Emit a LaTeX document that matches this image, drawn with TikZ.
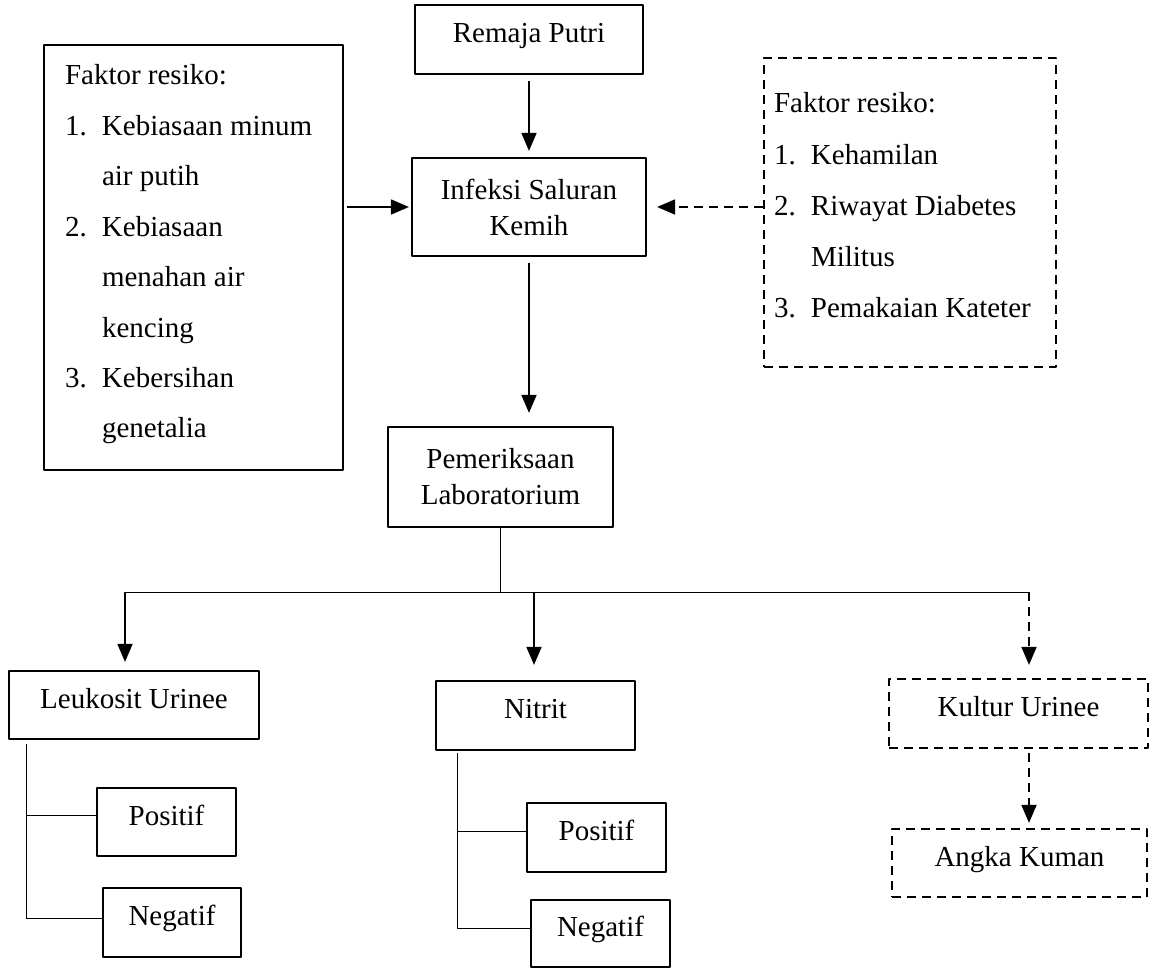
\documentclass[tikz,border=0pt]{standalone}
\usepackage{fontspec}
\setmainfont{Liberation Serif}
\usetikzlibrary{arrows.meta}
\newcommand{\nomor}[1]{\makebox[18.5pt][l]{#1}}
\newcommand{\lanjut}{\hspace*{18.5pt}}

\begin{document}
\begin{tikzpicture}[x=0.5pt, y=-0.5pt, line join=round,
  font=\fontsize{14.5}{18}\selectfont,
  >={Triangle[length=9pt,width=7.5pt]},
  kotak/.style={draw, line width=1.1pt, inner sep=0pt},
  satu/.style={kotak, text height=10pt, text depth=7pt},
  putus/.style={dash pattern=on 4.5pt off 3pt},
  panah/.style={->, line width=0.9pt},
  tipis/.style={line width=0.45pt}]
\useasboundingbox (0,0) rectangle (1150,968);
\node[satu, minimum width=114pt, minimum height=34.5pt] (remaja) at (529,39.5) {Remaja Putri};
\node[kotak, align=center, minimum width=117pt, minimum height=49pt] (isk) at (529,207) {Infeksi Saluran\\Kemih};
\node[kotak, align=center, minimum width=112.5pt, minimum height=50pt] (lab) at (500.5,477) {Pemeriksaan\\Laboratorium};
\node[kotak] (faktorkiri) at (193.5,257.5) {\begin{minipage}[c][212.5pt][t]{149.5pt}\fontsize{14.5}{25.2}\selectfont\raggedright\leftskip=10.5pt
\rule{0pt}{20pt}Faktor resiko:\\
\nomor{1.}Kebiasaan minum\\
\lanjut air putih\\
\nomor{2.}Kebiasaan\\
\lanjut menahan air\\
\lanjut kencing\\
\nomor{3.}Kebersihan\\
\lanjut genetalia
\end{minipage}};
\node[kotak, putus] (faktorkanan) at (910,212.5) {\begin{minipage}[c][154.5pt][t]{146pt}\fontsize{14.5}{25.6}\selectfont\raggedright\leftskip=5pt
\rule{0pt}{27.5pt}Faktor resiko:\\
\nomor{1.}Kehamilan\\
\nomor{2.}Riwayat Diabetes\\
\lanjut Militus\\
\nomor{3.}Pemakaian Kateter
\end{minipage}};
\node[satu, minimum width=125pt, minimum height=34pt] (leuko) at (134,705) {Leukosit Urinee};
\node[satu, minimum width=69.5pt, minimum height=34pt] (pos1) at (166.5,822) {Positif};
\node[satu, minimum width=69pt, minimum height=34.5pt] (neg1) at (172,922.5) {Negatif};
\node[satu, minimum width=99.5pt, minimum height=34.5pt] (nitrit) at (535.5,715.5) {Nitrit};
\node[satu, minimum width=69.5pt, minimum height=34.5pt] (pos2) at (596.5,837.5) {Positif};
\node[satu, minimum width=69.5pt, minimum height=33.5pt] (neg2) at (600.5,933.5) {Negatif};
\node[satu, putus, minimum width=129.5pt, minimum height=34.5pt] (kultur) at (1018.5,713.5) {Kultur Urinee};
\node[satu, putus, minimum width=127.5pt, minimum height=34pt] (angka) at (1019.5,863) {Angka Kuman};
\coordinate (kiri) at (125,592);
\coordinate (tengah) at (534,592);
\coordinate (kanan) at (1029,592);
\coordinate (garis1) at ([xshift=9.5pt,yshift=-2pt]leuko.south west);
\coordinate (garis2) at ([xshift=11.5pt,yshift=-1pt]nitrit.south west);
\draw[panah, shorten <=3pt, shorten >=3pt] (remaja) -- (isk);
\draw[panah, shorten <=3pt, shorten >=6.5pt] (isk.south) -- (isk.south |- lab.north);
\draw[panah, shorten <=1.5pt, shorten >=1pt] (faktorkiri.east |- isk.west) -- (isk.west);
\draw[panah, putus, shorten >=5pt] (faktorkanan.west |- isk.east) -- (isk.east);
\draw[tipis] (lab.south) -- (lab.south |- kiri);
\draw[tipis] (kiri) -- (kanan);
\draw[panah, shorten >=4pt] (kiri) -- (kiri |- leuko.north);
\draw[panah, shorten >=7.5pt] (tengah) -- (tengah |- nitrit.north);
\draw[panah, putus, shorten >=6.5pt] (kanan) -- (kanan |- kultur.north);
\draw[panah, putus, shorten <=2pt, shorten >=2.5pt] (kanan |- kultur.south) -- (kanan |- angka.north);
\draw[tipis] (garis1) |- ([yshift=2.25pt]neg1.west);
\draw[tipis] ([yshift=3.5pt]pos1.west) -- ++(-34.5pt,0);
\draw[tipis] (garis2) |- ([yshift=2.75pt]neg2.west);
\draw[tipis] ([yshift=3.25pt]pos2.west) -- ++(-34pt,0);
\end{tikzpicture}
\end{document}
